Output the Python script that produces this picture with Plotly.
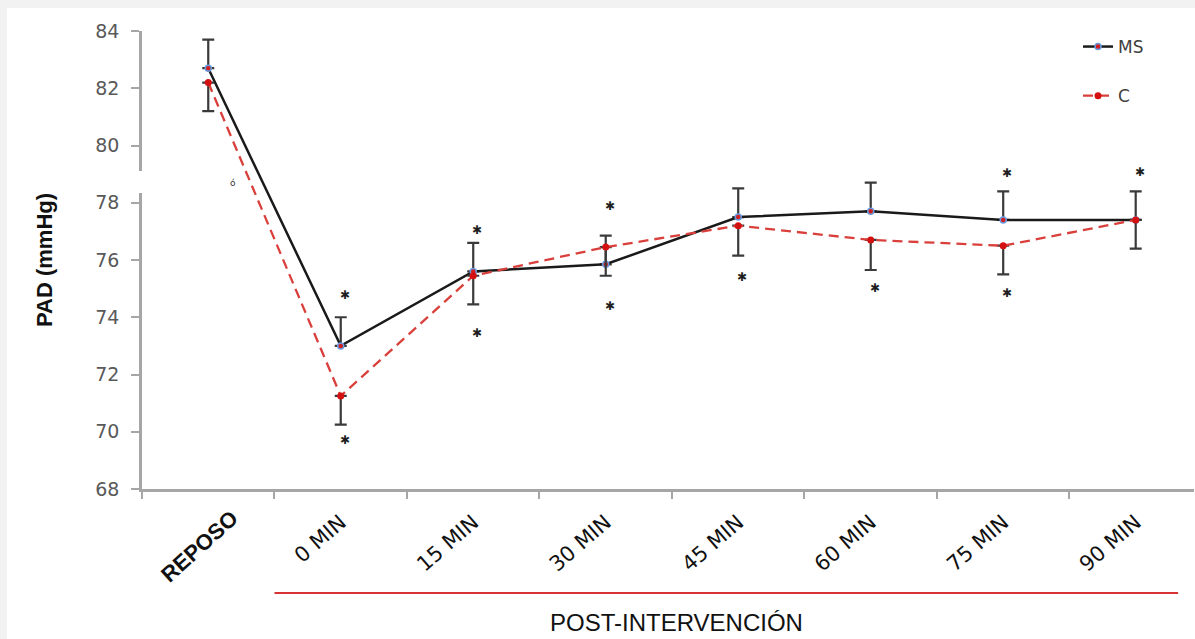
import plotly.graph_objects as go

# ---- data ----
categories = ["REPOSO", "0 MIN", "15 MIN", "30 MIN", "45 MIN", "60 MIN", "75 MIN", "90 MIN"]
ms_values = [82.7, 73.0, 75.6, 75.85, 77.5, 77.7, 77.4, 77.4]
ms_err_up = [1.0, 1.0, 1.0, 1.0, 1.0, 1.0, 1.0, 1.0]
c_values = [82.2, 71.25, 75.45, 76.45, 77.2, 76.7, 76.5, 77.4]
c_err_down = [1.0, 1.0, 1.0, 1.0, 1.05, 1.05, 1.0, 1.0]
y_ticks = [68, 70, 72, 74, 76, 78, 80, 82, 84]

# significance asterisks (category, y value)
ast_cat = ["0 MIN", "0 MIN", "15 MIN", "15 MIN", "30 MIN", "30 MIN",
           "45 MIN", "60 MIN", "75 MIN", "75 MIN", "90 MIN"]
ast_y = [74.78, 69.71, 77.05, 73.45, 77.89, 74.41,
         75.42, 75.02, 79.04, 74.85, 79.09]

y_title = "PAD (mmHg)"
x_group_label = "POST-INTERVENCIÓN"

# ---- layout constants ----
W, H = 1195, 639
ML, MR, MT, MB = 142, 1, 31, 150
YMIN, YMAX = 68, 84
XMIN, XMAX = -0.5, 7.44
PW = W - ML - MR
PH = H - MT - MB

def px_to_paper_x(px):
    return (px - ML) / PW

def px_to_paper_y(py):
    return (H - MB - py) / PH

def val_to_paper_y(v):
    return (v - YMIN) / (YMAX - YMIN)

fig = go.Figure()

fig.add_trace(go.Scatter(
    x=categories, y=ms_values, name="MS", mode="lines+markers",
    line=dict(color="#1a1a1a", width=2.5),
    marker=dict(size=6, color="#d22020", line=dict(color="#6a9be0", width=1.5)),
    error_y=dict(type="data", symmetric=False, array=ms_err_up,
                 arrayminus=[0] * len(ms_err_up),
                 color="#3a3a3a", thickness=2.2, width=6),
    legendgroup="ms",
))
fig.add_trace(go.Scatter(
    x=categories, y=c_values, name="C", mode="lines+markers",
    line=dict(color="#d9403c", width=2.3, dash="10px,6px"),
    marker=dict(size=7, color="#d41010"),
    error_y=dict(type="data", symmetric=False, array=[0] * len(c_err_down),
                 arrayminus=c_err_down,
                 color="#3a3a3a", thickness=2.2, width=6),
    legendgroup="c",
))

annotations = []
for cat, yv in zip(ast_cat, ast_y):
    annotations.append(dict(
        x=cat, y=yv, xref="x", yref="y", text="✱", showarrow=False,
        xshift=4, yshift=0, xanchor="center", yanchor="middle",
        font=dict(family="DejaVu Sans", size=12, color="#1e1e1e"),
    ))

# stray mark near REPOSO
annotations.append(dict(
    x=px_to_paper_x(233), y=px_to_paper_y(183), xref="paper", yref="paper",
    xanchor="center", yanchor="middle",
    text="ó", showarrow=False, font=dict(family="DejaVu Sans", size=9, color="#333333"),
))

# REPOSO label (placed separately, bold)
annotations.append(dict(
    x=px_to_paper_x(199), y=px_to_paper_y(546), xref="paper", yref="paper",
    xanchor="center", yanchor="middle",
    text="<b>" + categories[0] + "</b>", showarrow=False, textangle=-42,
    font=dict(family="Liberation Sans", size=22, color="#111111"),
))

annotations.append(dict(
    x=px_to_paper_x(676), y=px_to_paper_y(622), xref="paper", yref="paper",
    xanchor="center", yanchor="middle",
    text=x_group_label, showarrow=False,
    font=dict(family="Liberation Sans", size=24, color="#111111"),
))

shapes = [
    # grey frame strips
    dict(type="rect", xref="paper", yref="paper",
         x0=px_to_paper_x(0), x1=px_to_paper_x(W), y0=px_to_paper_y(8), y1=px_to_paper_y(0),
         fillcolor="#f2f2f2", line=dict(width=0), layer="below"),
    dict(type="rect", xref="paper", yref="paper",
         x0=px_to_paper_x(0), x1=px_to_paper_x(7), y0=px_to_paper_y(H), y1=px_to_paper_y(0),
         fillcolor="#f2f2f2", line=dict(width=0), layer="below"),
    # axis break
    dict(type="rect", xref="paper", yref="paper",
         x0=px_to_paper_x(138), x1=px_to_paper_x(146),
         y0=val_to_paper_y(78.34), y1=val_to_paper_y(79.11),
         fillcolor="white", line=dict(width=0), layer="above"),
    # red underline for post-intervention group
    dict(type="line", xref="x", yref="paper", x0=0.5, x1=7.32,
         y0=px_to_paper_y(593), y1=px_to_paper_y(593),
         line=dict(color="#d63333", width=2.2)),
]

fig.update_layout(
    width=W, height=H,
    margin=dict(l=ML, r=MR, t=MT, b=MB, pad=0),
    paper_bgcolor="white", plot_bgcolor="white",
    showlegend=True,
    legend=dict(x=px_to_paper_x(1078), y=px_to_paper_y(29), xanchor="left", yanchor="top",
                bgcolor="rgba(0,0,0,0)", tracegroupgap=24,
                font=dict(family="DejaVu Sans", size=17, color="#404040")),
    annotations=annotations,
    shapes=shapes,
)

fig.update_xaxes(
    type="category", categoryorder="array", categoryarray=categories,
    range=[XMIN, XMAX],
    tickmode="array", tickvals=categories, ticktext=[""] + categories[1:],
    tickangle=-41, tickson="boundaries", ticks="outside", ticklen=7,
    tickcolor="#a6a6a6", tickwidth=1.5,
    showline=True, linecolor="#a6a6a6", linewidth=2.5,
    showgrid=False, zeroline=False,
    tickfont=dict(family="DejaVu Sans", size=21, color="#111111"),
    ticklabelstandoff=10,
)

fig.update_yaxes(
    range=[YMIN, YMAX], tickmode="array", tickvals=y_ticks,
    ticks="outside", ticklen=8, tickcolor="#a6a6a6", tickwidth=1.5,
    showline=True, linecolor="#a6a6a6", linewidth=2.5,
    showgrid=False, zeroline=False,
    tickfont=dict(family="DejaVu Sans", size=19, color="#595959"),
    ticklabelstandoff=8,
    title=dict(text="<b>" + y_title + "</b>", standoff=37,
               font=dict(family="Liberation Sans", size=22, color="#111111")),
)

fig.write_html("out.html", config={"displayModeBar": False},
               post_script="document.body.style.margin='0';")
